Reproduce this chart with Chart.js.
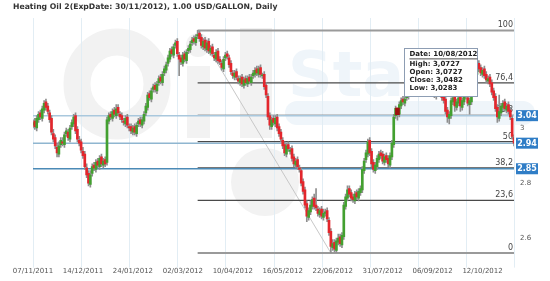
<!DOCTYPE html>
<html>
<head>
<meta charset="utf-8">
<script src="https://cdn.jsdelivr.net/npm/chart.js@4.4.1/dist/chart.umd.min.js"></script>
<style>
  html, body { margin: 0; padding: 0; background: #fff; }
  #wrap { width: 550px; height: 281px; }
</style>
</head>
<body>
<div id="wrap"><canvas id="chart" width="550" height="281"></canvas></div>
<script>
// daily candles, index 0 = 07/11/2011
const open = [
  3.010,3.025,3.000,3.030,3.055,3.035,3.065,3.095,3.080,3.055,
  3.035,2.980,2.965,2.930,2.905,2.940,2.950,2.940,2.980,2.985,
  2.960,3.005,3.015,3.045,2.995,2.955,2.950,2.915,2.905,2.855,
  2.835,2.795,2.835,2.865,2.850,2.880,2.860,2.895,2.865,2.885,
  2.875,3.025,3.050,3.035,3.065,3.045,3.075,3.050,3.045,3.025,
  3.015,3.040,3.005,3.005,2.985,3.005,2.980,3.015,3.030,3.010,
  3.025,3.055,3.075,3.125,3.105,3.140,3.155,3.135,3.165,3.185,
  3.165,3.200,3.210,3.235,3.250,3.285,3.265,3.300,3.315,3.265,
  3.255,3.235,3.270,3.245,3.280,3.285,3.310,3.325,3.310,3.335,
  3.345,3.330,3.295,3.320,3.285,3.315,3.275,3.295,3.265,3.250,
  3.280,3.250,3.235,3.215,3.255,3.270,3.255,3.235,3.200,3.185,
  3.205,3.180,3.165,3.185,3.155,3.180,3.160,3.185,3.165,3.190,
  3.195,3.215,3.195,3.220,3.190,3.195,3.155,3.115,3.045,3.005,
  3.035,3.015,3.040,3.005,2.985,2.955,2.940,2.905,2.940,2.915,
  2.925,2.895,2.865,2.885,2.855,2.845,2.805,2.775,2.725,2.675,
  2.695,2.715,2.745,2.720,2.705,2.685,2.705,2.675,2.690,2.700,
  2.665,2.625,2.565,2.585,2.555,2.585,2.605,2.575,2.605,2.715,
  2.745,2.780,2.765,2.750,2.735,2.765,2.745,2.765,2.775,2.845,
  2.885,2.905,2.955,2.915,2.875,2.845,2.860,2.885,2.910,2.905,
  2.875,2.900,2.890,2.865,2.895,2.940,3.045,3.0727,3.050,3.080,
  3.105,3.090,3.110,3.115,3.130,3.155,3.135,3.155,3.180,3.160,
  3.185,3.175,3.150,3.170,3.155,3.130,3.150,3.135,3.115,3.135,
  3.155,3.135,3.115,3.105,3.065,3.035,3.045,3.095,3.115,3.075,
  3.090,3.115,3.075,3.095,3.125,3.110,3.085,3.095,3.135,3.165,
  3.195,3.235,3.220,3.195,3.215,3.195,3.170,3.185,3.165,3.135,
  3.115,3.075,3.035,3.055,3.075,3.095,3.065,3.085,3.065,3.035,
  2.965
];
const high = [
  3.030,3.035,3.045,3.060,3.065,3.080,3.100,3.105,3.090,3.065,
  3.045,2.995,2.975,2.945,2.950,2.965,2.965,2.985,3.000,2.995,
  3.010,3.030,3.050,3.055,3.005,2.970,2.960,2.930,2.915,2.870,
  2.845,2.845,2.870,2.875,2.885,2.890,2.900,2.905,2.890,2.895,
  3.040,3.055,3.060,3.070,3.075,3.085,3.085,3.060,3.055,3.035,
  3.045,3.050,3.015,3.015,3.010,3.015,3.020,3.035,3.040,3.040,
  3.060,3.090,3.130,3.135,3.145,3.160,3.165,3.170,3.190,3.195,
  3.205,3.225,3.240,3.265,3.290,3.295,3.305,3.320,3.325,3.275,
  3.265,3.275,3.280,3.285,3.300,3.315,3.330,3.335,3.340,3.355,
  3.352,3.340,3.325,3.330,3.320,3.325,3.300,3.305,3.275,3.285,
  3.290,3.260,3.245,3.260,3.275,3.280,3.265,3.245,3.210,3.210,
  3.215,3.190,3.190,3.195,3.185,3.190,3.190,3.195,3.195,3.210,
  3.220,3.225,3.225,3.230,3.200,3.205,3.165,3.125,3.055,3.040,
  3.045,3.045,3.050,3.015,2.995,2.965,2.950,2.945,2.950,2.930,
  2.935,2.905,2.890,2.895,2.865,2.855,2.815,2.785,2.735,2.710,
  2.735,2.750,2.760,2.780,2.715,2.710,2.715,2.705,2.705,2.710,
  2.675,2.635,2.595,2.595,2.600,2.615,2.615,2.620,2.730,2.760,
  2.790,2.790,2.775,2.760,2.770,2.775,2.780,2.790,2.860,2.890,
  2.920,2.960,2.965,2.925,2.885,2.875,2.900,2.915,2.920,2.915,
  2.905,2.910,2.900,2.910,2.955,3.050,3.080,3.0727,3.095,3.110,
  3.115,3.115,3.130,3.145,3.160,3.165,3.170,3.185,3.190,3.190,
  3.195,3.185,3.175,3.180,3.165,3.155,3.160,3.145,3.150,3.160,
  3.165,3.145,3.125,3.115,3.075,3.060,3.110,3.120,3.125,3.105,
  3.120,3.125,3.110,3.130,3.135,3.120,3.110,3.150,3.180,3.210,
  3.240,3.245,3.230,3.220,3.225,3.205,3.190,3.195,3.175,3.145,
  3.125,3.085,3.120,3.090,3.100,3.105,3.090,3.095,3.075,3.045,
  2.975
];
const low = [
  3.000,2.995,2.990,3.020,3.030,3.025,3.055,3.065,3.050,3.020,
  2.975,2.950,2.925,2.895,2.895,2.930,2.935,2.930,2.970,2.955,
  2.950,2.995,3.005,2.980,2.950,2.935,2.910,2.890,2.850,2.820,
  2.790,2.785,2.825,2.845,2.840,2.855,2.850,2.860,2.855,2.860,
  2.865,3.015,3.030,3.025,3.040,3.035,3.045,3.030,3.020,3.010,
  3.005,3.000,2.990,2.980,2.975,2.975,2.970,3.005,3.005,3.000,
  3.015,3.045,3.065,3.100,3.095,3.130,3.130,3.125,3.155,3.160,
  3.155,3.190,3.200,3.225,3.240,3.260,3.255,3.290,3.260,3.190,
  3.230,3.225,3.240,3.235,3.270,3.275,3.300,3.305,3.300,3.325,
  3.315,3.290,3.285,3.280,3.275,3.270,3.265,3.260,3.245,3.240,
  3.235,3.230,3.210,3.205,3.245,3.250,3.220,3.195,3.180,3.175,
  3.175,3.160,3.155,3.150,3.145,3.155,3.150,3.160,3.155,3.180,
  3.185,3.190,3.185,3.185,3.180,3.140,3.110,3.030,2.995,2.995,
  3.010,3.005,2.990,2.970,2.950,2.925,2.900,2.895,2.915,2.905,
  2.880,2.860,2.855,2.850,2.840,2.790,2.760,2.710,2.660,2.665,
  2.685,2.705,2.705,2.700,2.680,2.675,2.670,2.665,2.680,2.660,
  2.610,2.546,2.555,2.550,2.548,2.575,2.570,2.565,2.595,2.705,
  2.735,2.750,2.735,2.730,2.725,2.740,2.735,2.755,2.765,2.835,
  2.875,2.895,2.900,2.860,2.840,2.835,2.850,2.875,2.890,2.870,
  2.865,2.875,2.860,2.855,2.885,2.930,3.035,3.0283,3.040,3.070,
  3.085,3.080,3.100,3.105,3.120,3.130,3.125,3.145,3.155,3.150,
  3.160,3.145,3.140,3.140,3.125,3.120,3.120,3.110,3.105,3.125,
  3.120,3.100,3.090,3.050,3.020,3.015,3.035,3.085,3.060,3.065,
  3.080,3.060,3.065,3.085,3.105,3.080,3.050,3.085,3.125,3.155,
  3.185,3.205,3.190,3.185,3.180,3.165,3.160,3.150,3.120,3.100,
  3.060,3.020,3.025,3.045,3.065,3.060,3.055,3.050,3.030,2.960,
  2.935
];
const close = [
  3.020,3.005,3.035,3.050,3.040,3.070,3.090,3.075,3.060,3.030,
  2.985,2.960,2.935,2.910,2.935,2.955,2.945,2.975,2.990,2.965,
  3.000,3.020,3.040,2.990,2.960,2.945,2.920,2.900,2.860,2.830,
  2.800,2.830,2.860,2.855,2.875,2.865,2.890,2.870,2.880,2.870,
  3.030,3.045,3.040,3.060,3.050,3.070,3.055,3.040,3.030,3.020,
  3.035,3.010,3.000,2.990,3.000,2.985,3.010,3.025,3.015,3.030,
  3.050,3.080,3.120,3.110,3.135,3.150,3.140,3.160,3.180,3.170,
  3.195,3.215,3.230,3.255,3.280,3.270,3.295,3.310,3.270,3.250,
  3.240,3.265,3.250,3.275,3.290,3.305,3.320,3.315,3.330,3.340,
  3.325,3.300,3.315,3.290,3.310,3.280,3.290,3.270,3.255,3.275,
  3.245,3.240,3.220,3.250,3.265,3.260,3.230,3.205,3.190,3.200,
  3.185,3.170,3.180,3.160,3.175,3.165,3.180,3.170,3.185,3.200,
  3.210,3.200,3.215,3.195,3.190,3.150,3.120,3.040,3.010,3.030,
  3.020,3.035,3.000,2.980,2.960,2.935,2.910,2.935,2.925,2.920,
  2.890,2.870,2.880,2.860,2.850,2.800,2.770,2.720,2.680,2.700,
  2.720,2.740,2.715,2.710,2.690,2.700,2.680,2.690,2.695,2.670,
  2.620,2.570,2.580,2.560,2.590,2.600,2.580,2.610,2.720,2.750,
  2.775,2.760,2.745,2.740,2.760,2.750,2.770,2.780,2.850,2.880,
  2.910,2.950,2.910,2.870,2.850,2.865,2.890,2.905,2.900,2.880,
  2.895,2.885,2.870,2.900,2.945,3.040,3.072,3.0482,3.085,3.100,
  3.095,3.105,3.120,3.135,3.150,3.140,3.160,3.175,3.165,3.180,
  3.170,3.155,3.165,3.150,3.135,3.145,3.130,3.120,3.140,3.150,
  3.130,3.110,3.100,3.060,3.040,3.050,3.100,3.110,3.080,3.095,
  3.110,3.080,3.100,3.120,3.115,3.090,3.100,3.140,3.170,3.200,
  3.230,3.215,3.200,3.210,3.190,3.175,3.180,3.160,3.130,3.110,
  3.070,3.040,3.060,3.080,3.090,3.070,3.080,3.060,3.040,2.970,
  2.945
];

const tickLabels = ['07/11/2011', '14/12/2011', '24/01/2012', '02/03/2012', '10/04/2012',
                    '16/05/2012', '22/06/2012', '31/07/2012', '06/09/2012', '12/10/2012'];
const labelStep = 27;   // candles between date labels
const gridStep = 26;    // candles between vertical grid lines
const yTicks = [2.6, 2.8, 3];

const fibLevels = [100, 76.4, 61.8, 50, 38.2, 23.6, 0];
const fibLabels = ['100', '76,4', '61,8', '50', '38,2', '23,6', '0'];
const fibHigh = 3.355, fibLow = 2.546;
const fibHighIdx = 89, fibLowIdx = 161;

const priceLines = [3.045, 2.945, 2.852];
const priceLabels = ['3.04', '2.94', '2.85'];
const priceColors = ['#a9c8dd', '#8fb6d0', '#4b8ab6'];

const hoverIdx = 197;
const hoverText = ['Date: 10/08/2012', 'High: 3,0727', 'Open: 3,0727', 'Close: 3,0482', 'Low: 3,0283'];

const title = 'Heating Oil 2(ExpDate: 30/11/2012), 1.00 USD/GALLON, Daily';

const lastIdx = close.length - 1;
const UP = '#43a030', DOWN = '#e3262c', WICK = '#8e8e8e';

// ---- datasets ----
const fibPrice = lvl => fibLow + (fibHigh - fibLow) * lvl / 100;

const fibSets = fibLevels.map(lvl => ({
  type: 'line',
  data: [{ x: fibHighIdx, y: fibPrice(lvl) }, { x: lastIdx, y: fibPrice(lvl) }],
  borderColor: (lvl === 100 || lvl === 0) ? '#9a9a9a' : '#4a4a4a',
  borderWidth: (lvl === 100 || lvl === 0) ? 2 : 1.2,
  pointRadius: 0,
  order: 5
}));

const diagonal = {
  type: 'line',
  data: [{ x: fibHighIdx, y: fibHigh }, { x: fibLowIdx, y: fibLow }],
  borderColor: '#c8c8c8',
  borderWidth: 1,
  pointRadius: 0,
  order: 6
};

const priceSets = priceLines.map((p, k) => ({
  type: 'line',
  data: [{ x: 0, y: p }, { x: lastIdx, y: p }],
  borderColor: priceColors[k],
  borderWidth: 1.5,
  pointRadius: 0,
  order: 4
}));

const wicks = {
  type: 'bar',
  data: close.map((_, i) => ({ x: i, y: [low[i], high[i]] })),
  backgroundColor: WICK,
  barThickness: 1,
  grouped: false,
  order: 3
};

const bodies = {
  type: 'bar',
  data: close.map((c, i) => ({ x: i, y: [open[i], c] })),
  backgroundColor: close.map((c, i) => c >= open[i] ? UP : DOWN),
  barThickness: 2,
  minBarLength: 1,
  grouped: false,
  order: 2
};

const hoverBody = {
  type: 'bar',
  data: [{ x: hoverIdx, y: [open[hoverIdx], close[hoverIdx]] }],
  backgroundColor: '#9e1010',
  barThickness: 4,
  grouped: false,
  order: 1
};

// ---- plugins ----
const backdrop = {
  id: 'backdrop',
  beforeDraw(chart) {
    const { ctx, chartArea: a, scales: { x } } = chart;
    ctx.save();
    ctx.fillStyle = '#fff';
    ctx.fillRect(0, 0, chart.width, chart.height);

    // faint "OilStat" watermark
    ctx.fillStyle = '#f2f2f2';
    ctx.strokeStyle = '#f2f2f2';
    ctx.lineWidth = 27;
    ctx.beginPath();
    ctx.ellipse(117, 84, 40, 42, 0, 0, Math.PI * 2);
    ctx.stroke();
    ctx.fillRect(187, 66, 23, 72);
    ctx.beginPath(); ctx.arc(198, 45, 12, 0, Math.PI * 2); ctx.fill();
    ctx.fillRect(240, 28, 32, 110);
    ctx.beginPath(); ctx.arc(265, 182, 34, 0, Math.PI * 2); ctx.fill();
    ctx.fillStyle = '#eff5fa';
    ctx.font = 'bold 62px "DejaVu Sans"';
    ctx.textBaseline = 'alphabetic';
    ctx.fillText('Stat', 288, 96);
    ctx.beginPath();
    ctx.roundRect(285, 101, 250, 24, 12);
    ctx.fill();

    // vertical grid lines
    ctx.strokeStyle = '#e2edf4';
    ctx.lineWidth = 1;
    for (let v = 0; v <= lastIdx; v += gridStep) {
      const px = Math.round(x.getPixelForValue(v)) + 0.5;
      ctx.beginPath();
      ctx.moveTo(px, a.top);
      ctx.lineTo(px, a.bottom + 2);
      ctx.stroke();
    }
    ctx.restore();
  },
  beforeDatasetsDraw(chart) {
    const { ctx, scales: { x, y } } = chart;
    ctx.save();
    ctx.fillStyle = '#444';
    ctx.font = '8px "DejaVu Sans"';
    ctx.textAlign = 'right';
    ctx.textBaseline = 'bottom';
    const xr = x.getPixelForValue(lastIdx) - 1;
    fibLevels.forEach((lvl, k) => {
      ctx.fillText(fibLabels[k], xr, y.getPixelForValue(fibPrice(lvl)) - 1);
    });
    ctx.restore();
  },
  afterDraw(chart) {
    const { ctx, chartArea: a, scales: { x, y } } = chart;
    ctx.save();
    // title
    ctx.fillStyle = '#333';
    ctx.font = 'bold 7.7px "DejaVu Sans"';
    ctx.textBaseline = 'middle';
    ctx.textAlign = 'left';
    ctx.fillText(title, 13, 7);

    // current price tags
    ctx.font = 'bold 8px "DejaVu Sans"';
    ctx.textAlign = 'center';
    priceLines.forEach((p, k) => {
      const py = y.getPixelForValue(p);
      ctx.fillStyle = '#2f7dc6';
      ctx.fillRect(a.right + 2, py - 5.5, 22, 11);
      ctx.fillStyle = '#fff';
      ctx.fillText(priceLabels[k], a.right + 13, py + 0.5);
    });

    // hover box
    const bx = x.getPixelForValue(hoverIdx) + 7, by = 48, bw = 73, bh = 48;
    ctx.fillStyle = '#fff';
    ctx.fillRect(bx, by, bw, bh);
    ctx.strokeStyle = '#8d9db3';
    ctx.lineWidth = 1;
    ctx.strokeRect(Math.round(bx) + 0.5, by + 0.5, bw, bh);
    ctx.fillStyle = '#222';
    ctx.textAlign = 'left';
    ctx.font = 'bold 7px "DejaVu Sans"';
    hoverText.forEach((t, k) => {
      const ty = by + 6.5 + k * 8 + (k ? 2 : 0);
      ctx.fillText(t, bx + 5, ty);
      if (k === 0) {
        const w = ctx.measureText(t).width;
        ctx.fillRect(bx + 5, ty + 4, w, 0.8);
      }
    });
    ctx.restore();
  }
};

new Chart(document.getElementById('chart'), {
  type: 'bar',
  data: { datasets: [...fibSets, diagonal, ...priceSets, wicks, bodies, hoverBody] },
  options: {
    responsive: false,
    animation: false,
    layout: { padding: { left: 33, top: 18, right: 0, bottom: 5 } },
    plugins: { legend: { display: false }, tooltip: { enabled: false } },
    scales: {
      x: {
        type: 'linear',
        min: 0,
        max: lastIdx,
        offset: false,
        grid: { display: false, offset: false, drawTicks: false },
        border: { display: false },
        afterBuildTicks: s => { s.ticks = tickLabels.map((_, k) => ({ value: k * labelStep })); },
        ticks: {
          autoSkip: false,
          maxRotation: 0,
          padding: 1,
          color: '#555',
          font: { family: 'DejaVu Sans', size: 7 },
          callback: v => tickLabels[Math.round(v / labelStep)]
        }
      },
      y: {
        position: 'right',
        min: 2.5,
        max: 3.4,
        grid: { display: false, drawTicks: false },
        border: { display: false },
        afterBuildTicks: s => { s.ticks = yTicks.map(v => ({ value: v })); },
        afterFit: s => { s.width = 36; },
        ticks: {
          padding: 6,
          color: '#555',
          font: { family: 'DejaVu Sans', size: 7 },
          callback: v => String(+v.toFixed(1))
        }
      }
    }
  },
  plugins: [backdrop]
});
</script>
</body>
</html>
